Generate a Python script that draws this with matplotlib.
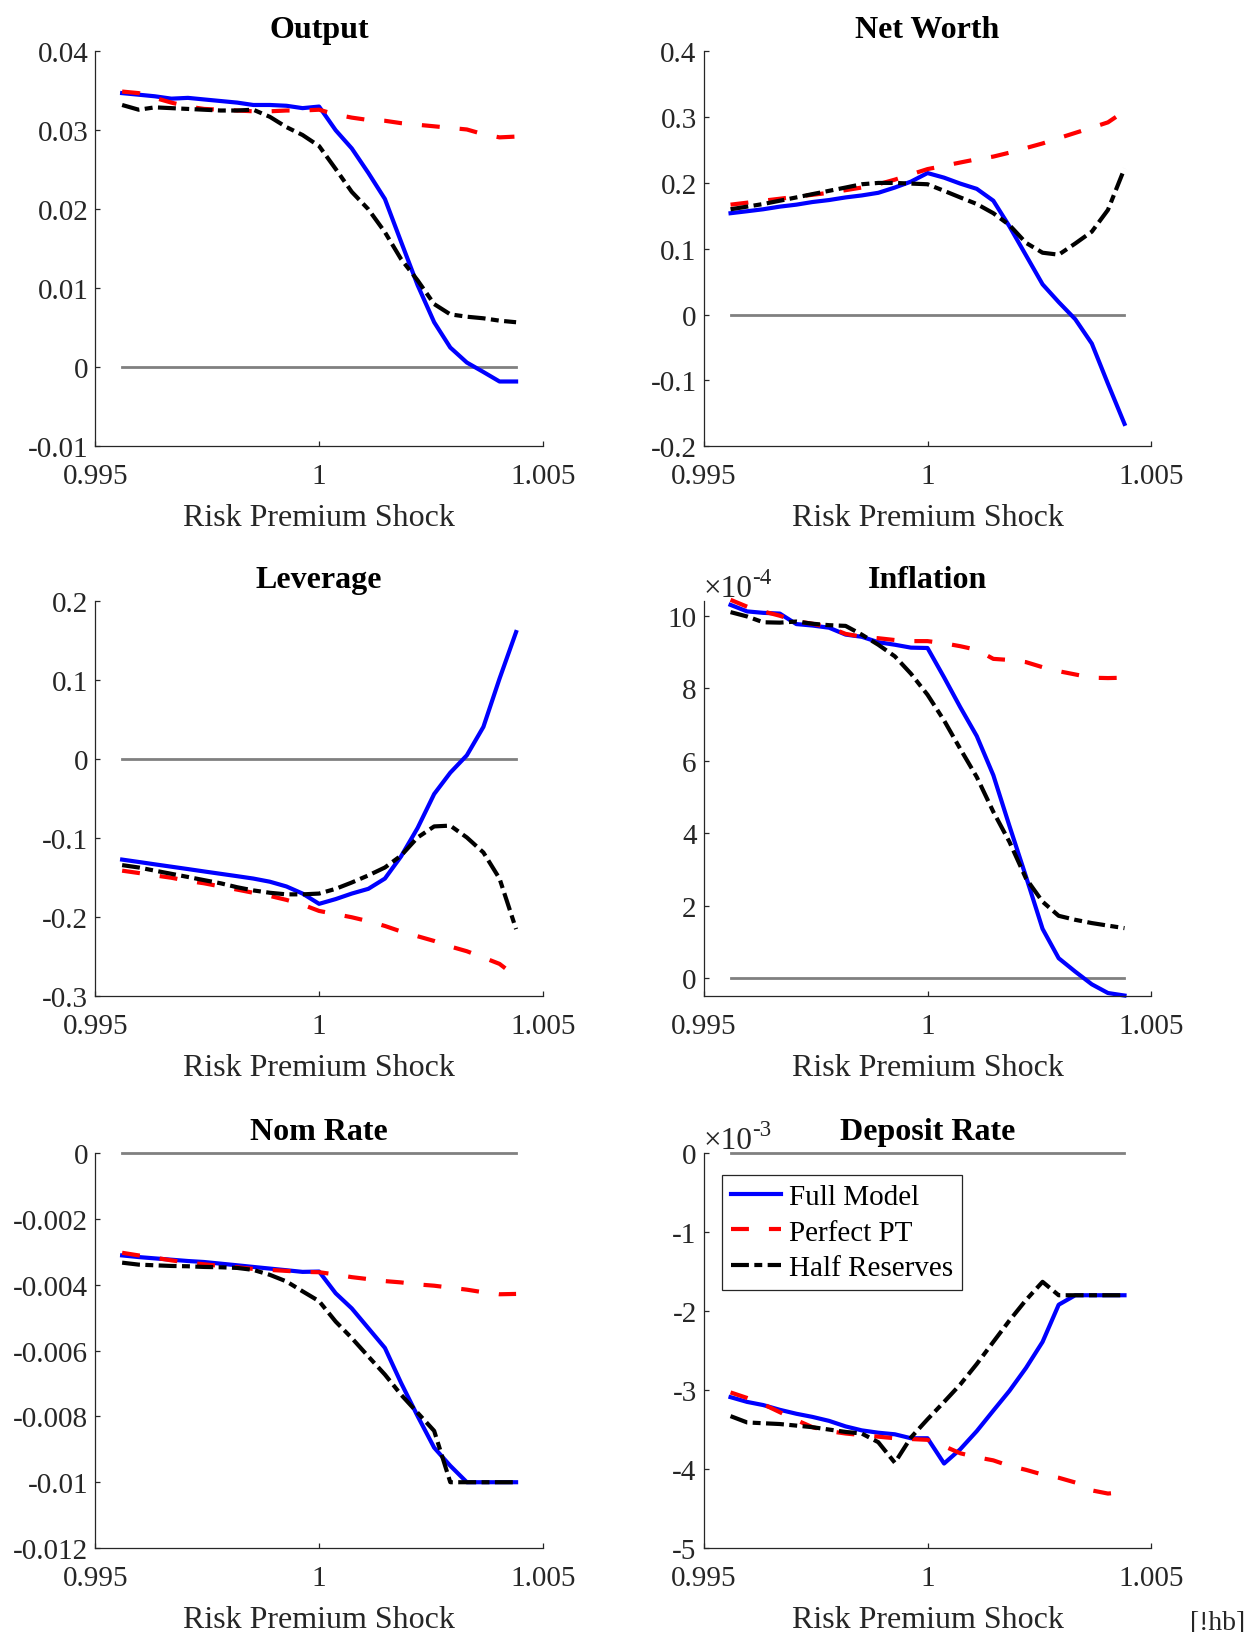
import matplotlib.pyplot as plt
from matplotlib import transforms
from matplotlib.ticker import FuncFormatter

plt.rcParams['font.family'] = ['Liberation Serif', 'DejaVu Serif']
plt.rcParams['axes.unicode_minus'] = False

# Risk premium shock grid (25 points around 1)
shock = [0.99560, 0.99597, 0.99633, 0.99670, 0.99707, 0.99743, 0.99780, 0.99817,
         0.99853, 0.99890, 0.99927, 0.99963, 1.00000, 1.00037, 1.00073, 1.00110,
         1.00147, 1.00183, 1.00220, 1.00257, 1.00293, 1.00330, 1.00367, 1.00403,
         1.00440]

model_names = ['Full Model', 'Perfect PT', 'Half Reserves']

# Output
output_full = [0.0347, 0.0345, 0.0343, 0.0340, 0.0341, 0.0339, 0.0337, 0.0335, 0.0332,
               0.0332, 0.0331, 0.0328, 0.0330, 0.0300, 0.0277, 0.0246, 0.0213, 0.0159,
               0.0104, 0.0057, 0.0025, 0.0006, -0.0006, -0.0018, -0.0018]
output_pt = [0.0349, 0.0347, 0.0341, 0.0335, 0.0330, 0.0327, 0.0326, 0.0325, 0.0324,
             0.0324, 0.0325, 0.0325, 0.0326, 0.0320, 0.0316, 0.0313, 0.0312, 0.0309,
             0.0307, 0.0305, 0.0303, 0.0301, 0.0295, 0.0291, 0.0292]
output_half = [0.0332, 0.0326, 0.0329, 0.0328, 0.0327, 0.0326, 0.0325, 0.0325, 0.0326,
               0.0317, 0.0304, 0.0294, 0.0280, 0.0251, 0.0222, 0.0200, 0.0171, 0.0137,
               0.0110, 0.0080, 0.0067, 0.0064, 0.0062, 0.0059, 0.0057]

# Net worth
networth_full = [0.154, 0.157, 0.160, 0.164, 0.167, 0.171, 0.174, 0.178, 0.181, 0.185,
                 0.193, 0.202, 0.215, 0.208, 0.199, 0.191, 0.173, 0.134, 0.090, 0.046,
                 0.019, -0.007, -0.044, -0.105, -0.166]
networth_pt = [0.167, 0.170, 0.173, 0.176, 0.179, 0.182, 0.185, 0.189, 0.193, 0.198,
               0.205, 0.213, 0.221, 0.226, 0.231, 0.236, 0.240, 0.246, 0.253, 0.260,
               0.268, 0.276, 0.284, 0.292, 0.309]
networth_half = [0.160, 0.164, 0.168, 0.173, 0.178, 0.183, 0.188, 0.193, 0.198, 0.200,
                 0.200, 0.199, 0.198, 0.188, 0.178, 0.168, 0.154, 0.136, 0.109, 0.094,
                 0.091, 0.108, 0.126, 0.159, 0.222]

# Leverage
leverage_full = [-0.127, -0.130, -0.133, -0.136, -0.139, -0.142, -0.145, -0.148, -0.151,
                 -0.155, -0.161, -0.170, -0.183, -0.177, -0.170, -0.164, -0.151, -0.123,
                 -0.087, -0.044, -0.017, 0.005, 0.041, 0.102, 0.161]
leverage_pt = [-0.141, -0.144, -0.147, -0.150, -0.154, -0.157, -0.161, -0.165, -0.169,
               -0.173, -0.178, -0.184, -0.192, -0.196, -0.200, -0.205, -0.211, -0.218,
               -0.224, -0.230, -0.237, -0.243, -0.251, -0.259, -0.275]
leverage_half = [-0.134, -0.137, -0.141, -0.145, -0.149, -0.153, -0.157, -0.162, -0.166,
                 -0.169, -0.171, -0.171, -0.170, -0.164, -0.156, -0.147, -0.137, -0.122,
                 -0.099, -0.085, -0.084, -0.099, -0.118, -0.151, -0.215]

# Inflation, in units of 1e-4
inflation_full = [10.30, 10.12, 10.08, 10.06, 9.77, 9.73, 9.67, 9.48, 9.42, 9.27, 9.20,
                  9.12, 9.11, 8.30, 7.48, 6.68, 5.60, 4.20, 2.80, 1.36, 0.55, 0.18,
                  -0.17, -0.41, -0.48]
inflation_pt = [10.44, 10.25, 10.12, 10.00, 9.85, 9.78, 9.68, 9.50, 9.42, 9.38, 9.33,
                9.30, 9.30, 9.24, 9.16, 9.06, 8.81, 8.78, 8.72, 8.58, 8.47, 8.38, 8.29,
                8.28, 8.29]
inflation_half = [10.10, 9.98, 9.82, 9.81, 9.84, 9.78, 9.74, 9.72, 9.48, 9.20, 8.88,
                  8.40, 7.82, 7.11, 6.33, 5.55, 4.59, 3.76, 2.75, 2.11, 1.72, 1.61, 1.52,
                  1.45, 1.38]

# Nominal policy rate
nomrate_full = [-0.00311, -0.00316, -0.00320, -0.00324, -0.00328, -0.00331, -0.00336,
                -0.00341, -0.00346, -0.00351, -0.00356, -0.00361, -0.00360, -0.00426,
                -0.00472, -0.00532, -0.00592, -0.00698, -0.00799, -0.00895, -0.00950,
                -0.01, -0.01, -0.01, -0.01]
nomrate_pt = [-0.00303, -0.00311, -0.00318, -0.00326, -0.00333, -0.00338, -0.00343,
              -0.00347, -0.00352, -0.00355, -0.00358, -0.00361, -0.00362, -0.00369,
              -0.00377, -0.00383, -0.00389, -0.00393, -0.00399, -0.00403, -0.00409,
              -0.00415, -0.00423, -0.00429, -0.00428]
nomrate_half = [-0.00333, -0.00339, -0.00341, -0.00343, -0.00344, -0.00346, -0.00347,
                -0.00349, -0.00355, -0.00370, -0.00390, -0.00420, -0.00450, -0.00512,
                -0.00562, -0.00618, -0.00673, -0.00734, -0.00789, -0.00844, -0.01,
                -0.01, -0.01, -0.01, -0.01]

# Deposit rate, in units of 1e-3
deposit_full = [-3.09, -3.15, -3.19, -3.25, -3.30, -3.34, -3.39, -3.46, -3.51, -3.54,
                -3.56, -3.61, -3.61, -3.93, -3.75, -3.52, -3.26, -3.01, -2.72, -2.39,
                -1.92, -1.80, -1.80, -1.80, -1.80]
deposit_pt = [-3.03, -3.10, -3.18, -3.28, -3.38, -3.47, -3.52, -3.55, -3.57, -3.59,
              -3.61, -3.62, -3.63, -3.71, -3.80, -3.85, -3.89, -3.96, -4.01, -4.07,
              -4.11, -4.17, -4.27, -4.31, -4.29]
deposit_half = [-3.33, -3.41, -3.42, -3.43, -3.45, -3.47, -3.50, -3.53, -3.55, -3.66,
                -3.92, -3.60, -3.37, -3.15, -2.93, -2.67, -2.39, -2.12, -1.86, -1.63,
                -1.80, -1.80, -1.80, -1.80, -1.80]

x_ticks = [0.995, 1, 1.005]

# title, series, y limits, y ticks, exponent shown above the axis
panels = [
    ('Output', (output_full, output_pt, output_half), (-0.01, 0.04),
     [-0.01, 0, 0.01, 0.02, 0.03, 0.04], None),
    ('Net Worth', (networth_full, networth_pt, networth_half), (-0.2, 0.4),
     [-0.2, -0.1, 0, 0.1, 0.2, 0.3, 0.4], None),
    ('Leverage', (leverage_full, leverage_pt, leverage_half), (-0.3, 0.2),
     [-0.3, -0.2, -0.1, 0, 0.1, 0.2], None),
    ('Inflation', (inflation_full, inflation_pt, inflation_half), (-0.5, 10.4),
     [0, 2, 4, 6, 8, 10], '-4'),
    ('Nom Rate', (nomrate_full, nomrate_pt, nomrate_half), (-0.012, 0),
     [-0.012, -0.01, -0.008, -0.006, -0.004, -0.002, 0], None),
    ('Deposit Rate', (deposit_full, deposit_pt, deposit_half), (-5, 0),
     [-5, -4, -3, -2, -1, 0], '-3'),
]

line_styles = [
    dict(color='#0000ff', linestyle='-'),
    dict(color='#ff0000', dashes=(4.3, 4.8)),
    dict(color='#000000', dashes=(4.3, 1.3, 1.9, 1.3)),
]

dark = (0.15, 0.15, 0.15)
fmt = FuncFormatter(lambda v, p: '%g' % v)

fig = plt.figure(figsize=(12.47, 16.33), dpi=100)

col_left = [0.0764, 0.5643]
row_bottom = [0.7261, 0.3893, 0.0514]
ax_w, ax_h = 0.359, 0.2419

for n, (title, series, ylim, yticks, expo) in enumerate(panels):
    ax = fig.add_axes([col_left[n % 2], row_bottom[n // 2], ax_w, ax_h])

    # zero reference line
    ax.plot([shock[0], shock[-1]], [0, 0], color='#808080', linewidth=2.0,
            clip_on=False, zorder=1)
    handles = []
    for vals, style, name in zip(series, line_styles, model_names):
        ln, = ax.plot(shock, vals, linewidth=3.0, label=name, clip_on=False,
                      zorder=2, **style)
        handles.append(ln)

    ax.set_xlim(0.995, 1.005)
    ax.set_ylim(*ylim)
    ax.set_xticks(x_ticks)
    ax.set_yticks(yticks)
    ax.xaxis.set_major_formatter(fmt)
    ax.yaxis.set_major_formatter(fmt)
    ax.tick_params(axis='both', direction='in', length=3.3, width=0.9,
                   color=dark, labelcolor=dark, labelsize=21)
    ax.tick_params(axis='x', pad=12)
    ax.tick_params(axis='y', pad=5)

    for side in ['top', 'right']:
        ax.spines[side].set_visible(False)
    for side in ['left', 'bottom']:
        ax.spines[side].set_color(dark)
        ax.spines[side].set_linewidth(0.9)

    ax.set_title(title, fontsize=23, fontweight='bold', pad=10)
    ax.set_xlabel('Risk Premium Shock', fontsize=23, color=dark, labelpad=10)

    if expo is not None:
        base = ax.text(0.0, 1.0, '\u00d710', fontsize=22.5, color=dark,
                       ha='left', va='baseline',
                       transform=transforms.offset_copy(ax.transAxes, fig=fig,
                                                        y=5, units='dots'))
        ax.annotate(expo, xy=(1.0, 0.52), xycoords=base, fontsize=16.5,
                    color=dark, ha='left', va='bottom')

    if title == 'Deposit Rate':
        leg = ax.legend(handles=handles, loc='upper left',
                        bbox_to_anchor=(0.042, 0.945), borderaxespad=0,
                        fontsize=21, handlelength=1.7, handletextpad=0.27,
                        labelspacing=0.32, borderpad=0.3, fancybox=False,
                        framealpha=1, edgecolor=dark)
        leg.get_frame().set_linewidth(0.9)

fig.text(0.9985, 3 / 1633, '[!hb]', fontsize=20, color=dark,
         ha='right', va='baseline')

fig.savefig('out.png', dpi=100)
